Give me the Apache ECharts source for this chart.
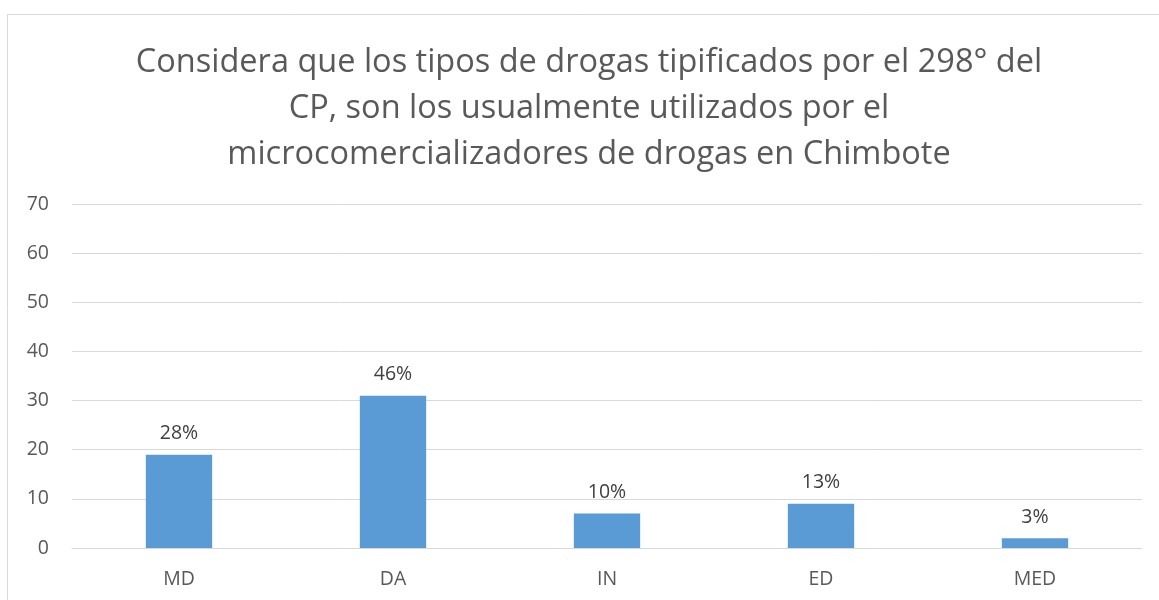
<!DOCTYPE html>
<html>
<head>
<meta charset="utf-8">
<script src="https://cdn.jsdelivr.net/npm/echarts@6/dist/echarts.min.js"></script>
<style>
  html, body { margin: 0; padding: 0; background: #fff; }
  #main { width: 1159px; height: 600px; }
</style>
</head>
<body>
<div id="main"></div>
<script>
var titleText = 'Considera que los tipos de drogas tipificados por el 298° del\nCP, son los usualmente utilizados por el\nmicrocomercializadores de drogas en Chimbote';
var categories = ['MD', 'DA', 'IN', 'ED', 'MED'];
var values = [19, 31, 7, 9, 2];
var percentLabels = ['28%', '46%', '10%', '13%', '3%'];
var yTicks = { min: 0, max: 70, interval: 10 };

var myChart = echarts.init(document.getElementById('main'));
var font = '"Open Sans", "Noto Sans", sans-serif';

var option = {
  animation: false,
  backgroundColor: '#fff',
  textStyle: { fontFamily: font },
  graphic: [{
    type: 'rect',
    shape: { x: 7.5, y: 14.5, width: 1170, height: 620 },
    style: { fill: 'none', stroke: '#d9d9d9', lineWidth: 1 },
    silent: true
  }],
  title: {
    text: titleText,
    left: 584,
    textAlign: 'center',
    top: 35,
    textStyle: {
      fontFamily: font,
      fontSize: 32.5,
      fontWeight: 'normal',
      color: '#595959',
      lineHeight: 46
    }
  },
  grid: { left: 72, right: 17, top: 204, bottom: 52, containLabel: false },
  xAxis: {
    type: 'category',
    data: categories,
    axisLine: { lineStyle: { color: '#d9d9d9', width: 1 } },
    axisTick: { show: false },
    axisLabel: { color: '#595959', fontSize: 19.5, margin: 21, fontFamily: font }
  },
  yAxis: {
    type: 'value',
    min: yTicks.min,
    max: yTicks.max,
    interval: yTicks.interval,
    axisLine: { show: false },
    axisTick: { show: false },
    splitLine: { lineStyle: { color: '#d9d9d9', width: 1 } },
    axisLabel: { color: '#595959', fontSize: 19.5, margin: 23, fontFamily: font }
  },
  series: [{
    type: 'bar',
    data: values,
    barWidth: '31%',
    itemStyle: { color: '#5b9bd5' },
    label: {
      show: true,
      position: 'top',
      distance: 11,
      color: '#404040',
      fontSize: 19.5,
      fontFamily: font,
      formatter: function (p) { return percentLabels[p.dataIndex]; }
    }
  }]
};
myChart.setOption(option);
</script>
</body>
</html>
